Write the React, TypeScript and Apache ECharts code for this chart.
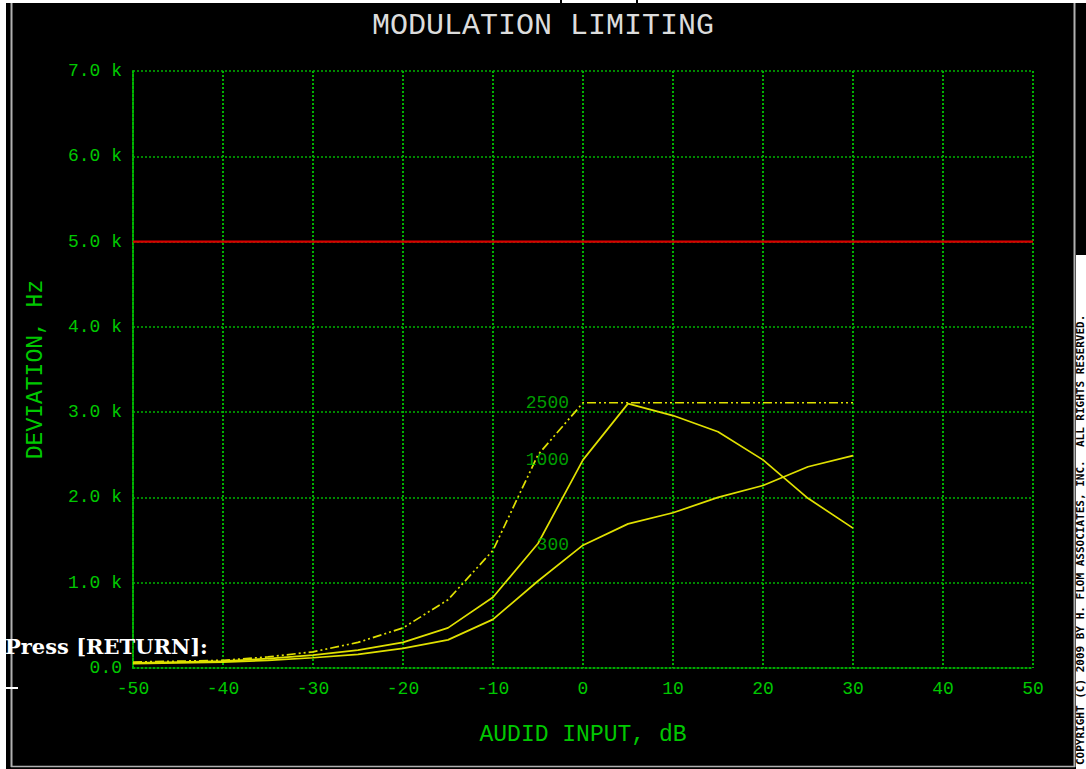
import React, { useEffect, useRef } from "react";
import * as echarts from "echarts";

// Audio input level (dB)
const inputDb = [-50, -45, -40, -35, -30, -25, -20, -15, -10, -5, 0, 5, 10, 15, 20, 25, 30];
// Deviation (Hz) for each modulating tone
const dev300 = [50, 60, 70, 90, 120, 160, 230, 330, 570, 1020, 1440, 1690, 1820, 2000, 2140, 2360, 2490];
const dev1000 = [60, 70, 80, 110, 150, 210, 300, 470, 830, 1460, 2440, 3100, 2960, 2770, 2440, 1990, 1640];
const dev2500 = [70, 80, 90, 130, 190, 300, 470, 800, 1380, 2500, 3110, 3110, 3110, 3110, 3110, 3110, 3110];
// Limit line
const limitX = [-50, 50];
const limitDev = 5000;
// Curve labels
const curveNames = ["2500", "1000", "300"];
const curveLabelX = [0, 0, 0];
const curveLabelY = [3110, 2440, 1440];

const GREEN = "#00c800";
const GRID = "#00b400";
const YELLOW = "#e0e000";
const MONO = "'Liberation Mono', 'DejaVu Sans Mono', monospace";

const pairs = (xs: number[], ys: number[]) => xs.map((x, i) => [x, ys[i]]);

export default function App() {
  const ref = useRef<HTMLDivElement>(null);
  useEffect(() => {
    if (!ref.current) return;
    const chart = echarts.init(ref.current, undefined, { renderer: "svg" });
    const yellowLine = (data: number[][], type: any) => ({
      type: "line",
      data,
      symbol: "none",
      lineStyle: { color: YELLOW, width: 1.7, type },
      z: 3,
    });
    chart.setOption({
      animation: false,
      backgroundColor: "#000",
      title: {
        text: "MODULATION LIMITING",
        left: "center",
        top: 6,
        textStyle: { color: "#dcdcdc", fontFamily: MONO, fontSize: 30, fontWeight: "normal" },
      },
      grid: { left: 133, right: 53, top: 71, bottom: 101, containLabel: false },
      xAxis: {
        type: "value",
        min: -50,
        max: 50,
        interval: 10,
        name: "AUDID INPUT, dB",
        nameLocation: "middle",
        nameGap: 55,
        nameTextStyle: { color: GREEN, fontFamily: MONO, fontSize: 23 },
        axisLine: { show: true, onZero: false, lineStyle: { color: GRID, type: [2, 2], width: 1.5 } },
        axisTick: { show: false },
        axisLabel: { color: GREEN, fontFamily: MONO, fontSize: 18, margin: 12 },
        splitLine: { show: true, lineStyle: { color: GRID, type: [2, 2], width: 2 } },
      },
      yAxis: {
        type: "value",
        min: 0,
        max: 7000,
        interval: 1000,
        name: "DEVIATION, Hz",
        nameLocation: "middle",
        nameGap: 86,
        nameRotate: 90,
        nameTextStyle: { color: GREEN, fontFamily: MONO, fontSize: 23 },
        axisLine: { show: true, onZero: false, lineStyle: { color: GRID, type: [2, 2], width: 2 } },
        axisTick: { show: false },
        axisLabel: {
          color: GREEN,
          fontFamily: MONO,
          fontSize: 18,
          margin: 11,
          formatter: (v: number) => (v === 0 ? "0.0" : (v / 1000).toFixed(1) + " k"),
        },
        splitLine: { show: true, lineStyle: { color: GRID, type: [2, 2], width: 1.5 } },
      },
      series: [
        {
          type: "line",
          data: limitX.map((x) => [x, limitDev]),
          symbol: "none",
          lineStyle: { color: "#d80000", width: 2.2 },
          z: 5,
        },
        yellowLine(pairs(inputDb, dev300), "solid"),
        yellowLine(pairs(inputDb, dev1000), "solid"),
        yellowLine(pairs(inputDb, dev2500), [9, 3, 2, 3, 2, 3]),
        {
          type: "scatter",
          symbolSize: 0,
          data: curveNames.map((n, i) => ({ value: [curveLabelX[i], curveLabelY[i]], name: n })),
          label: {
            show: true,
            position: "left",
            distance: 14,
            formatter: (p: any) => p.name,
            color: GREEN,
            fontFamily: MONO,
            fontSize: 18,
          },
          z: 4,
        },
      ],
      graphic: [
        { type: "rect", shape: { x: 0, y: 0, width: 1086, height: 3 }, style: { fill: "#fff" }, silent: true },
        { type: "rect", shape: { x: 0, y: 0, width: 6, height: 769 }, style: { fill: "#fff" }, silent: true },
        { type: "rect", shape: { x: 1076, y: 255, width: 10, height: 514 }, style: { fill: "#fff" }, silent: true },
        { type: "line", shape: { x1: 561, y1: 0, x2: 561, y2: 3 }, style: { stroke: "#000", lineWidth: 2 } },
        { type: "line", shape: { x1: 637, y1: 0, x2: 637, y2: 3 }, style: { stroke: "#000", lineWidth: 2 } },
        { type: "line", shape: { x1: 11.5, y1: 3, x2: 11.5, y2: 767 }, style: { stroke: "#b0b0b0", lineWidth: 2 } },
        { type: "line", shape: { x1: 1074.5, y1: 3, x2: 1074.5, y2: 767 }, style: { stroke: "#b0b0b0", lineWidth: 2 } },
        { type: "line", shape: { x1: 11, y1: 766.5, x2: 1075, y2: 766.5 }, style: { stroke: "#b0b0b0", lineWidth: 1.5 } },
        { type: "line", shape: { x1: 6, y1: 688, x2: 18, y2: 688 }, style: { stroke: "#fff", lineWidth: 2 } },
        {
          type: "text",
          x: 5,
          y: 646,
          style: {
            text: "Press [RETURN]:",
            fill: "#fff",
            font: "bold 21px 'DejaVu Serif', serif",
            verticalAlign: "middle",
          },
          z: 10,
        },
        {
          type: "text",
          x: 1080.5,
          y: 765,
          rotation: Math.PI / 2,
          style: {
            text: "COPYRIGHT (C) 2009 BY H. FLOM ASSOCIATES, INC.  ALL RIGHTS RESERVED.",
            fill: "#000",
            font: "bold 11px 'DejaVu Sans Mono', monospace",
            align: "left",
            verticalAlign: "middle",
          },
          z: 10,
        },
      ],
    });
    return () => chart.dispose();
  }, []);
  return (
    <div
      ref={ref}
      style={{ position: "absolute", left: 0, top: 0, width: 1086, height: 769 }}
    />
  );
}
